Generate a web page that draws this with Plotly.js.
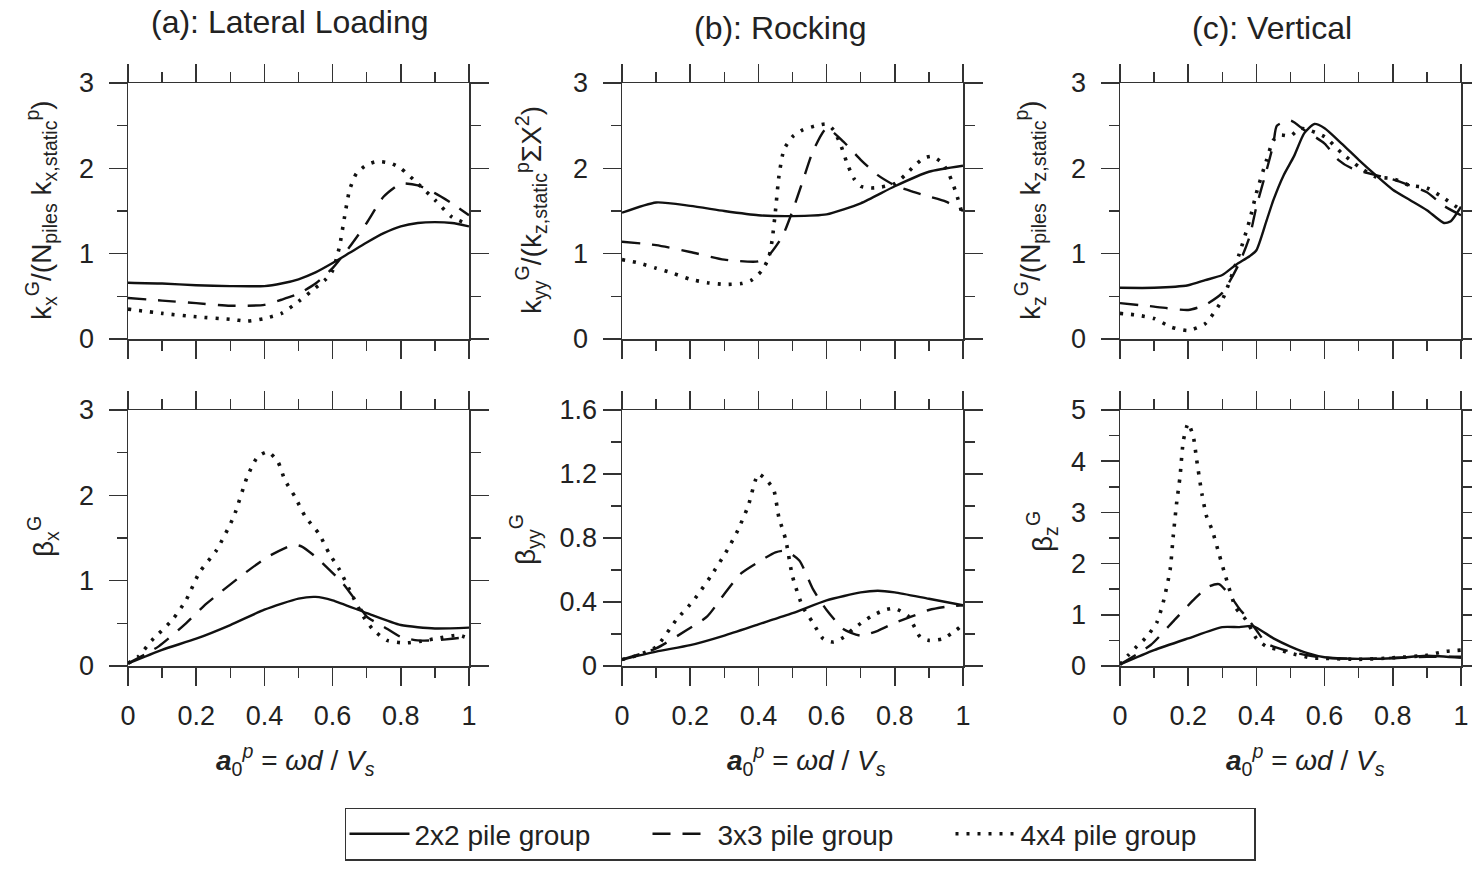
<!DOCTYPE html>
<html>
<head>
<meta charset="utf-8">
<script src="https://cdn.plot.ly/plotly-3.0.1.min.js"></script>
<style>html,body{margin:0;padding:0;background:#fff;}#chart{width:1472px;height:872px;}</style>
</head>
<body>
<div id="chart"></div>
<script>
// ---------------- DATA ----------------
const seriesNames = ["2x2 pile group", "3x3 pile group", "4x4 pile group"];
const panelTitles = ["(a): Lateral Loading", "(b): Rocking", "(c): Vertical"];
const xTickVals = [0, 0.2, 0.4, 0.6, 0.8, 1];
const xTickText = ["0", "0.2", "0.4", "0.6", "0.8", "1"];

// (a) top: kx
const kx_2x2_x = [0,0.1,0.2,0.3,0.4,0.45,0.5,0.55,0.6,0.65,0.7,0.75,0.8,0.85,0.9,0.95,1.0];
const kx_2x2_y = [0.66,0.65,0.63,0.62,0.62,0.65,0.70,0.78,0.89,1.01,1.13,1.24,1.32,1.36,1.37,1.36,1.32];
const kx_3x3_x = [0,0.1,0.2,0.3,0.4,0.45,0.5,0.55,0.6,0.65,0.7,0.75,0.8,0.85,0.9,0.95,1.0];
const kx_3x3_y = [0.48,0.45,0.42,0.39,0.40,0.46,0.53,0.65,0.83,1.08,1.36,1.67,1.82,1.80,1.71,1.59,1.45];
const kx_4x4_x = [0,0.1,0.2,0.3,0.35,0.4,0.45,0.5,0.55,0.58,0.6,0.62,0.635,0.65,0.67,0.7,0.73,0.77,0.8,0.85,0.9,0.95,1.0];
const kx_4x4_y = [0.35,0.30,0.26,0.23,0.21,0.24,0.30,0.44,0.60,0.70,0.80,1.08,1.43,1.75,1.94,2.04,2.08,2.06,2.00,1.82,1.63,1.43,1.34];

// (b) top: kyy
const kyy_2x2_x = [0,0.1,0.2,0.3,0.4,0.5,0.6,0.7,0.8,0.9,1.0];
const kyy_2x2_y = [1.48,1.60,1.56,1.50,1.45,1.44,1.46,1.59,1.79,1.96,2.03];
const kyy_3x3_x = [0,0.1,0.2,0.3,0.4,0.43,0.47,0.5,0.53,0.56,0.6,0.65,0.7,0.75,0.8,0.85,0.9,0.95,1.0];
const kyy_3x3_y = [1.14,1.10,1.02,0.93,0.91,0.98,1.20,1.50,1.85,2.20,2.47,2.31,2.10,1.92,1.80,1.73,1.67,1.61,1.50];
const kyy_4x4_x = [0,0.05,0.1,0.15,0.2,0.25,0.3,0.35,0.38,0.41,0.43,0.44,0.45,0.46,0.475,0.5,0.53,0.57,0.6,0.62,0.64,0.66,0.68,0.7,0.73,0.76,0.8,0.83,0.855,0.885,0.91,0.94,0.96,0.98,1.0];
const kyy_4x4_y = [0.93,0.89,0.83,0.77,0.70,0.66,0.64,0.65,0.69,0.80,0.95,1.15,1.50,1.90,2.22,2.37,2.45,2.50,2.52,2.45,2.29,2.06,1.88,1.79,1.77,1.78,1.82,1.92,2.02,2.12,2.14,2.06,1.92,1.71,1.43];

// (c) top: kz
const kz_2x2_x = [0,0.1,0.2,0.25,0.3,0.34,0.38,0.4,0.43,0.45,0.48,0.51,0.54,0.57,0.6,0.65,0.7,0.75,0.8,0.85,0.9,0.95,0.97,1.0];
const kz_2x2_y = [0.60,0.60,0.63,0.69,0.75,0.87,0.97,1.04,1.39,1.63,1.92,2.14,2.41,2.52,2.47,2.29,2.10,1.92,1.75,1.63,1.51,1.36,1.38,1.55];
const kz_3x3_x = [0,0.1,0.2,0.25,0.3,0.35,0.38,0.4,0.43,0.45,0.46,0.5,0.54,0.6,0.64,0.68,0.75,0.8,0.85,0.9,0.95,1.0];
const kz_3x3_y = [0.42,0.38,0.34,0.40,0.54,0.89,1.20,1.55,1.98,2.29,2.50,2.56,2.45,2.29,2.10,2.00,1.92,1.87,1.80,1.72,1.56,1.45];
const kz_4x4_x = [0,0.05,0.1,0.15,0.2,0.25,0.3,0.33,0.35,0.38,0.4,0.43,0.45,0.47,0.5,0.53,0.6,0.65,0.7,0.75,0.8,0.85,0.9,0.95,1.0];
const kz_4x4_y = [0.30,0.28,0.24,0.14,0.10,0.18,0.46,0.77,1.00,1.39,1.71,2.10,2.33,2.39,2.38,2.47,2.37,2.18,2.02,1.90,1.88,1.80,1.77,1.65,1.51];

// (a) bottom: beta_x
const bx_2x2_x = [0,0.1,0.2,0.3,0.4,0.5,0.55,0.6,0.7,0.8,0.9,1.0];
const bx_2x2_y = [0.03,0.19,0.32,0.48,0.66,0.79,0.81,0.77,0.62,0.48,0.44,0.45];
const bx_3x3_x = [0,0.09,0.17,0.23,0.33,0.41,0.485,0.51,0.55,0.59,0.63,0.66,0.7,0.75,0.8,0.85,0.9,0.95,1.0];
const bx_3x3_y = [0.03,0.23,0.50,0.73,1.05,1.28,1.42,1.40,1.28,1.13,0.97,0.81,0.58,0.46,0.34,0.30,0.30,0.32,0.34];
const bx_4x4_x = [0,0.03,0.07,0.13,0.17,0.21,0.26,0.31,0.35,0.38,0.41,0.44,0.46,0.49,0.52,0.56,0.59,0.62,0.66,0.69,0.72,0.76,0.81,0.86,0.9,0.97,1.0];
const bx_4x4_y = [0.03,0.11,0.30,0.54,0.77,1.10,1.36,1.75,2.22,2.45,2.51,2.39,2.18,1.98,1.75,1.55,1.32,1.13,0.81,0.58,0.42,0.30,0.27,0.29,0.32,0.36,0.32];

// (b) bottom: beta_yy
const byy_2x2_x = [0,0.1,0.2,0.3,0.4,0.5,0.6,0.7,0.75,0.8,0.9,1.0];
const byy_2x2_y = [0.04,0.09,0.13,0.19,0.26,0.33,0.41,0.46,0.47,0.46,0.42,0.38];
const byy_3x3_x = [0,0.1,0.19,0.25,0.3,0.35,0.4,0.45,0.48,0.52,0.56,0.6,0.65,0.7,0.75,0.8,0.85,0.9,0.95,1.0];
const byy_3x3_y = [0.04,0.11,0.225,0.31,0.45,0.58,0.65,0.71,0.72,0.66,0.48,0.35,0.23,0.19,0.22,0.27,0.31,0.35,0.37,0.38];
const byy_4x4_x = [0,0.05,0.1,0.16,0.21,0.26,0.31,0.34,0.37,0.4,0.425,0.445,0.46,0.48,0.5,0.53,0.56,0.59,0.62,0.65,0.68,0.73,0.77,0.8,0.84,0.875,0.9,0.94,0.98,1.0];
const byy_4x4_y = [0.04,0.07,0.12,0.29,0.41,0.56,0.73,0.85,1.00,1.20,1.16,1.10,0.93,0.79,0.56,0.37,0.27,0.17,0.15,0.18,0.235,0.31,0.35,0.36,0.31,0.18,0.16,0.17,0.225,0.26];

// (c) bottom: beta_z
const bz_2x2_x = [0,0.1,0.2,0.3,0.35,0.39,0.45,0.5,0.55,0.6,0.7,0.8,0.9,1.0];
const bz_2x2_y = [0.03,0.31,0.54,0.76,0.76,0.78,0.54,0.38,0.25,0.17,0.14,0.15,0.20,0.16];
const bz_3x3_x = [0,0.09,0.16,0.22,0.26,0.29,0.32,0.35,0.37,0.4,0.43,0.5,0.55,0.6,0.7,0.8,0.9,1.0];
const bz_3x3_y = [0.03,0.41,0.90,1.32,1.55,1.60,1.40,1.12,0.96,0.70,0.44,0.28,0.21,0.16,0.14,0.16,0.18,0.18];
const bz_4x4_x = [0,0.024,0.049,0.078,0.108,0.127,0.147,0.156,0.166,0.176,0.186,0.2,0.215,0.225,0.24,0.254,0.27,0.29,0.31,0.34,0.37,0.4,0.43,0.47,0.5,0.56,0.6,0.7,0.8,0.9,0.95,1.0];
const bz_4x4_y = [0.03,0.21,0.38,0.57,0.85,1.25,1.88,2.53,3.18,3.70,4.41,4.74,4.48,4.02,3.37,2.92,2.66,2.20,1.74,1.13,0.90,0.54,0.38,0.31,0.25,0.16,0.15,0.13,0.16,0.21,0.28,0.31];

// y-axis titles
const yTitles = [
  "k<sub>x</sub><sup>G</sup>/(N<sub>piles</sub> k<sub>x,static</sub><sup>p</sup>)",
  "k<sub>yy</sub><sup>G</sup>/(k<sub>z,static</sub><sup>p</sup>ΣX<sup>2</sup>)",
  "k<sub>z</sub><sup>G</sup>/(N<sub>piles</sub> k<sub>z,static</sub><sup>p</sup>)",
  "β<sub>x</sub><sup>G</sup>",
  "β<sub>yy</sub><sup>G</sup>",
  "β<sub>z</sub><sup>G</sup>"
];
const yRanges = [[0,3],[0,3],[0,3],[0,3],[0,1.6],[0,5]];
const yDticks = [1,1,1,1,0.4,1];
const yMinorDticks = [0.5,0.5,0.5,0.5,0.2,0.5];
const xTitle = "<b><i>a</i></b><sub>0</sub><sup><i>p</i></sup> = <i>ωd</i> / <i>V</i><sub><i>s</i></sub>";

// ---------------- BUILD ----------------
const panels = [
  [[kx_2x2_x,kx_2x2_y],[kx_3x3_x,kx_3x3_y],[kx_4x4_x,kx_4x4_y]],
  [[kyy_2x2_x,kyy_2x2_y],[kyy_3x3_x,kyy_3x3_y],[kyy_4x4_x,kyy_4x4_y]],
  [[kz_2x2_x,kz_2x2_y],[kz_3x3_x,kz_3x3_y],[kz_4x4_x,kz_4x4_y]],
  [[bx_2x2_x,bx_2x2_y],[bx_3x3_x,bx_3x3_y],[bx_4x4_x,bx_4x4_y]],
  [[byy_2x2_x,byy_2x2_y],[byy_3x3_x,byy_3x3_y],[byy_4x4_x,byy_4x4_y]],
  [[bz_2x2_x,bz_2x2_y],[bz_3x3_x,bz_3x3_y],[bz_4x4_x,bz_4x4_y]]
];

const W = 1472, H = 872;
const FONT = 'Arial, "Liberation Sans", sans-serif';
const INK = '#222';
const AX = '#333';
const fx = p => p / W;
const fy = p => 1 - p / H;
const colPx = [[128,469],[622,963],[1120,1461]];
const rowPx = [[83,339],[410,666]];
const yLabelStandoff = [9, 9, 9, 9, 0, 9];

const lineStyles = [
  {color:'#111', width:2.4, dash:'solid'},
  {color:'#111', width:2.4, dash:'18px,12px'},
  {color:'#111', width:3.6, dash:'3px,8px'}
];

const traces = [];
panels.forEach((series, p) => {
  const suffix = p === 0 ? '' : String(p + 1);
  series.forEach((s, k) => {
    traces.push({
      x: s[0], y: s[1], type: 'scatter', mode: 'lines',
      name: seriesNames[k], legendgroup: seriesNames[k], showlegend: p === 0,
      line: Object.assign({shape:'spline', smoothing:0.6}, lineStyles[k]),
      xaxis: 'x' + suffix, yaxis: 'y' + suffix, hoverinfo: 'skip'
    });
  });
});

const layout = {
  width: W, height: H,
  margin: {l:0, r:0, t:0, b:0},
  paper_bgcolor: '#fff', plot_bgcolor: '#fff',
  font: {family: FONT, color: INK, size: 27},
  showlegend: true,
  legend: {
    orientation: 'h', x: fx(800), xanchor: 'center', y: fy(834), yanchor: 'middle',
    bordercolor: AX, borderwidth: 1.5, bgcolor: '#fff',
    font: {family: FONT, size: 28, color: INK},
    entrywidth: 228, itemwidth: 60, tracegroupgap: 0
  },
  annotations: [],
  shapes: []
};

for (let p = 0; p < 6; p++) {
  const col = p % 3, row = Math.floor(p / 3);
  const suffix = p === 0 ? '' : String(p + 1);
  const xa = {
    domain: [fx(colPx[col][0]), fx(colPx[col][1])],
    range: [0, 1], anchor: 'y' + suffix,
    showline: true, linecolor: AX, linewidth: 1.5, mirror: 'allticks',
    ticks: 'outside', ticklen: 18, tickwidth: 1.5, tickcolor: AX,
    tickvals: xTickVals, ticktext: xTickText,
    showticklabels: row === 1, ticklabelstandoff: 7,
    tickfont: {family: FONT, size: 27, color: INK},
    minor: {dtick: 0.1, tick0: 0, ticks: 'outside', ticklen: 10, tickwidth: 1.5, tickcolor: AX, showgrid: false},
    showgrid: false, zeroline: false, fixedrange: true
  };
  const ya = {
    domain: [fy(rowPx[row][1]), fy(rowPx[row][0])],
    range: yRanges[p], anchor: 'x' + suffix,
    showline: true, linecolor: AX, linewidth: 1.5, mirror: 'allticks',
    ticks: 'outside', ticklen: 18, tickwidth: 1.5, tickcolor: AX,
    dtick: yDticks[p], tick0: 0, ticklabelstandoff: yLabelStandoff[p],
    tickfont: {family: FONT, size: 27, color: INK},
    minor: {dtick: yMinorDticks[p], tick0: 0, ticks: 'outside', ticklen: 10, tickwidth: 1.5, tickcolor: AX, showgrid: false},
    showgrid: false, zeroline: false, fixedrange: true
  };
  layout['xaxis' + suffix] = xa;
  layout['yaxis' + suffix] = ya;
}

// panel titles
const titlePos = [[290,22],[780,28],[1272,28]];
panelTitles.forEach((t, i) => {
  layout.annotations.push({text: t, xref:'paper', yref:'paper', x: fx(titlePos[i][0]), y: fy(titlePos[i][1]),
    xanchor:'center', yanchor:'middle', showarrow:false, font:{family:FONT, size:32, color:INK}});
});
// y titles
const yTitlePos = [[41,210],[531,210],[1030,210],[43,537],[525,540],[1042,532]];
yTitles.forEach((t, i) => {
  layout.annotations.push({text: t, xref:'paper', yref:'paper', x: fx(yTitlePos[i][0]), y: fy(yTitlePos[i][1]),
    xanchor:'center', yanchor:'middle', textangle:-90, showarrow:false, font:{family:FONT, size:28, color:INK}});
});
// x titles
const xTitlePos = [[295,760],[806,760],[1305,760]];
xTitlePos.forEach(pos => {
  layout.annotations.push({text: xTitle, xref:'paper', yref:'paper', x: fx(pos[0]), y: fy(pos[1]),
    xanchor:'center', yanchor:'middle', showarrow:false, font:{family:FONT, size:28, color:INK}});
});

Plotly.newPlot('chart', traces, layout, {staticPlot: true, displayModeBar: false});
</script>
</body>
</html>
